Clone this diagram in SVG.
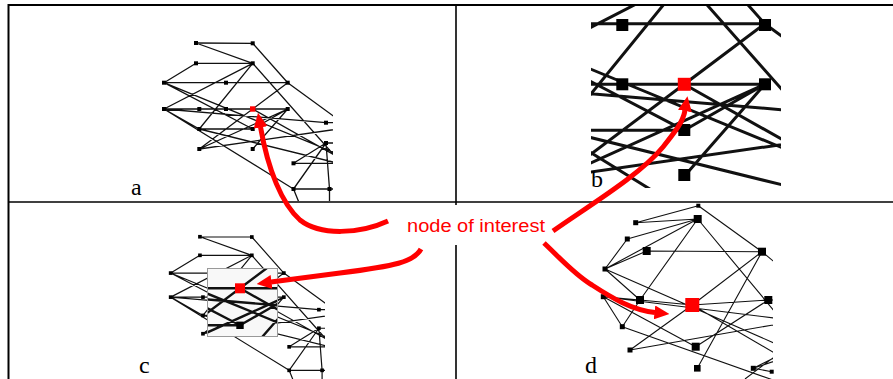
<svg xmlns="http://www.w3.org/2000/svg" xmlns:xlink="http://www.w3.org/1999/xlink" width="893" height="379" viewBox="0 0 893 379">
<style>
.e{stroke:#111;stroke-width:1.3;fill:none;stroke-linecap:round}
.de{stroke:#111;stroke-width:1.1;fill:none}
.n{fill:#000}
.r{fill:#f00}
.lbl{font-family:"Liberation Serif","Times New Roman",serif;font-size:24px;fill:#000}
.arr{stroke:#f00;stroke-width:5;fill:none}
.tb{stroke:#000;fill:none}
</style>
<defs>
<marker id="ah" viewBox="0 0 15 14" markerWidth="15" markerHeight="14" refX="0.5" refY="7" orient="auto" markerUnits="userSpaceOnUse"><path d="M0,0 L15,7 L0,14 Z" fill="#f00"/></marker>
<clipPath id="clipA"><rect x="150" y="30" width="183" height="171"/></clipPath>
<clipPath id="clipB"><rect x="591" y="6" width="190" height="182"/></clipPath>
<clipPath id="clipC"><rect x="150" y="210" width="175" height="169"/></clipPath>
<clipPath id="clipBox"><rect x="208" y="269" width="69" height="67"/></clipPath>
<clipPath id="clipD"><rect x="590" y="203" width="183" height="176"/></clipPath>
<g id="edgesA">
<path class="e" d="M196,43 L252.7,43.3 M196,43 L252.7,63.3 M252.7,43.3 L287.7,82.7 M287.7,82.7 L345,124.5 M196,63.3 L252.7,63.3 M196,63.3 L164,82.7 M252.7,63.3 L164,109 M252.7,63.3 L199.3,129 M252.7,63.3 L345,167.6 M164,82.7 L287.7,82.7 M164,82.7 L345,157 M164,82.7 L252.7,129 M164,109 L287.7,109 M164,109 L326,122.7 L345,122.7 M164,109 L293.5,189 M164,109 L199.3,129 M287.7,82.7 L252.7,109 M287.7,82.7 L199.3,149 M252.7,109 L345,161 M287.7,109 L252.7,129 M287.7,109 L252.7,149 M199.3,129 L252.7,129 M199.3,129 L345,165 M199.3,149 L345,128 M199.3,149 L287.7,109 M326,143 L293.5,163.3 M326,143 L293.5,189 M326,143 L329.5,189 L329.5,205 M326,143 L345,143 M293.5,163.3 L345,163.3 M293.5,189 L329.5,189 L345,189 M293.5,189 L300,205"/>
</g>
<g id="nodesA">
<rect class="n" x="194" y="41" width="4" height="4"/>
<rect class="n" x="250.7" y="41.3" width="4" height="4"/>
<rect class="n" x="194" y="61.3" width="4" height="4"/>
<rect class="n" x="250.7" y="61.3" width="4" height="4"/>
<rect class="n" x="162" y="80.7" width="4" height="4"/>
<rect class="n" x="224" y="80.7" width="4" height="4"/>
<rect class="n" x="285.7" y="80.7" width="4" height="4"/>
<rect class="n" x="162" y="107" width="4" height="4"/>
<rect class="n" x="197.3" y="107" width="4" height="4"/>
<rect class="n" x="224" y="107" width="4" height="4"/>
<rect class="r" x="250" y="106.3" width="5.4" height="5.4"/>
<rect class="n" x="285.7" y="107" width="4" height="4"/>
<rect class="n" x="197.3" y="127" width="4" height="4"/>
<rect class="n" x="250.7" y="127" width="4" height="4"/>
<rect class="n" x="197.3" y="147" width="4" height="4"/>
<rect class="n" x="250.7" y="147" width="4" height="4"/>
<rect class="n" x="324" y="120.7" width="4" height="4"/>
<rect class="n" x="324" y="141" width="4" height="4"/>
<rect class="n" x="291.5" y="161.3" width="4" height="4"/>
<rect class="n" x="291.5" y="187" width="4" height="4"/>
<rect class="n" x="327.5" y="187" width="4" height="4"/>
</g>
<g id="graphA"><use xlink:href="#edgesA"/><use xlink:href="#nodesA"/></g>
</defs>

<g id="table">
<line class="tb" x1="8" y1="5" x2="893" y2="5" stroke-width="2"/>
<line class="tb" x1="8.5" y1="4" x2="8.5" y2="379" stroke-width="2"/>
<line class="tb" x1="8" y1="202" x2="893" y2="202" stroke-width="1.4"/>
<line class="tb" x1="456" y1="5" x2="456" y2="379" stroke-width="1.6"/>
</g>

<g id="panel-a">
<g clip-path="url(#clipA)"><use xlink:href="#graphA"/></g>
<text class="lbl" x="131" y="195">a</text>
</g>

<g id="panel-b">
<g clip-path="url(#clipB)">
<use xlink:href="#edgesA" transform="translate(684.3,84.3) scale(2.3) translate(-252.7,-109)"/>
<rect class="n" x="616.3" y="19" width="12" height="12"/>
<rect class="n" x="759" y="19" width="12" height="12"/>
<rect class="n" x="616.3" y="78.3" width="12" height="12"/>
<rect class="r" x="677.8" y="77.8" width="13" height="13"/>
<rect class="n" x="759" y="78.3" width="12" height="12"/>
<rect class="n" x="678.3" y="124" width="12" height="12"/>
<rect class="n" x="678.3" y="169" width="12" height="12"/>
</g>
<text class="lbl" x="591" y="187">b</text>
</g>

<g id="panel-c">
<g clip-path="url(#clipC)"><use xlink:href="#graphA" transform="translate(20.6,197.4) scale(0.915)"/></g>
<rect x="207.5" y="268.5" width="70" height="68" fill="#f8f8f8" stroke="#999" stroke-width="1"/>
<g clip-path="url(#clipBox)"><use xlink:href="#graphA" transform="translate(240,288.3) scale(1.85) translate(-252.7,-109)"/></g>
<text class="lbl" x="139" y="373">c</text>
</g>

<g id="panel-d">
<g id="d-edges" clip-path="url(#clipD)">
<path class="de" d="M635.7,222.7 L698.3,205.7 M635.7,222.7 L697.7,219 M698.3,205.7 L762,251.7 L790,275 M627.3,239 L697.7,219 M627.3,239 L605,269 M697.7,219 L605,269 M697.7,219 L640,300 M697.7,219 L790,330 M605,269 L646.7,251 L762,251.7 M605,269 L790,350 M605,269 L640,300 M603.3,296.7 L640,300 L692.3,305 L768.3,300 L790,300 M603.3,296.7 L790,320 M603.3,296.7 L695.7,346.7 M603.3,296.7 L622.3,326.7 M762,251.7 L692.3,305 M762,251.7 L697.3,368.3 M692.3,305 L790,362 M692.3,305 L630,350 M768.3,300 L695.7,346.7 M622.3,326.7 L640,300 M622.3,326.7 L790,386 M630,350 L790,322 M753.3,368.3 L790,350 M753.3,368.3 L790,356 M753.3,368.3 L771.7,371.7 L790,371.7 M745,379 L790,345"/>
</g>
<g id="d-nodes">
<rect class="n" x="696.3" y="203.7" width="4" height="4"/>
<rect class="n" x="693.7" y="215" width="8" height="8"/>
<rect class="n" x="633.2" y="220.2" width="5" height="5"/>
<rect class="n" x="624.8" y="236.5" width="5" height="5"/>
<rect class="n" x="642.7" y="247" width="8" height="8"/>
<rect class="n" x="758" y="247.7" width="8" height="8"/>
<rect class="n" x="602.5" y="266.5" width="5" height="5"/>
<rect class="n" x="600.8" y="294.2" width="5" height="5"/>
<rect class="n" x="636" y="296" width="8" height="8"/>
<rect class="r" x="685.3" y="298" width="14" height="14"/>
<rect class="n" x="764.3" y="296" width="8" height="8"/>
<rect class="n" x="619.8" y="324.2" width="5" height="5"/>
<rect class="n" x="627.5" y="347.5" width="5" height="5"/>
<rect class="n" x="691.7" y="342.7" width="8" height="8"/>
<rect class="n" x="694" y="365" width="6.6" height="6.6"/>
<rect class="n" x="750.8" y="365.8" width="5" height="5"/>
<rect class="n" x="769.7" y="369.7" width="4" height="4"/>
</g>
<text class="lbl" x="585" y="373">d</text>
</g>

<g id="callout">
<rect x="396" y="205" width="160" height="40" fill="#fff"/>
<g id="arrows">
<path class="arr" marker-end="url(#ah)" d="M388,221 C360,234 320,236 300,220 C282,204 268,170 260.5,127"/>
<path class="arr" marker-end="url(#ah)" d="M553,231 C590,205 640,175 663,147 C675,132 683,122 685,110.5"/>
<path class="arr" marker-end="url(#ah)" d="M421,249 C414,262 395,266 340,273 L271,282"/>
<path class="arr" marker-end="url(#ah)" d="M544,243 C560,258 575,275 592,285 C612,298 632,310 655,312.5"/>
</g>
<text x="407" y="232" font-family="Liberation Sans, Arial, sans-serif" font-size="18" fill="#f00" textLength="138" lengthAdjust="spacingAndGlyphs">node of interest</text>
</g>
</svg>
